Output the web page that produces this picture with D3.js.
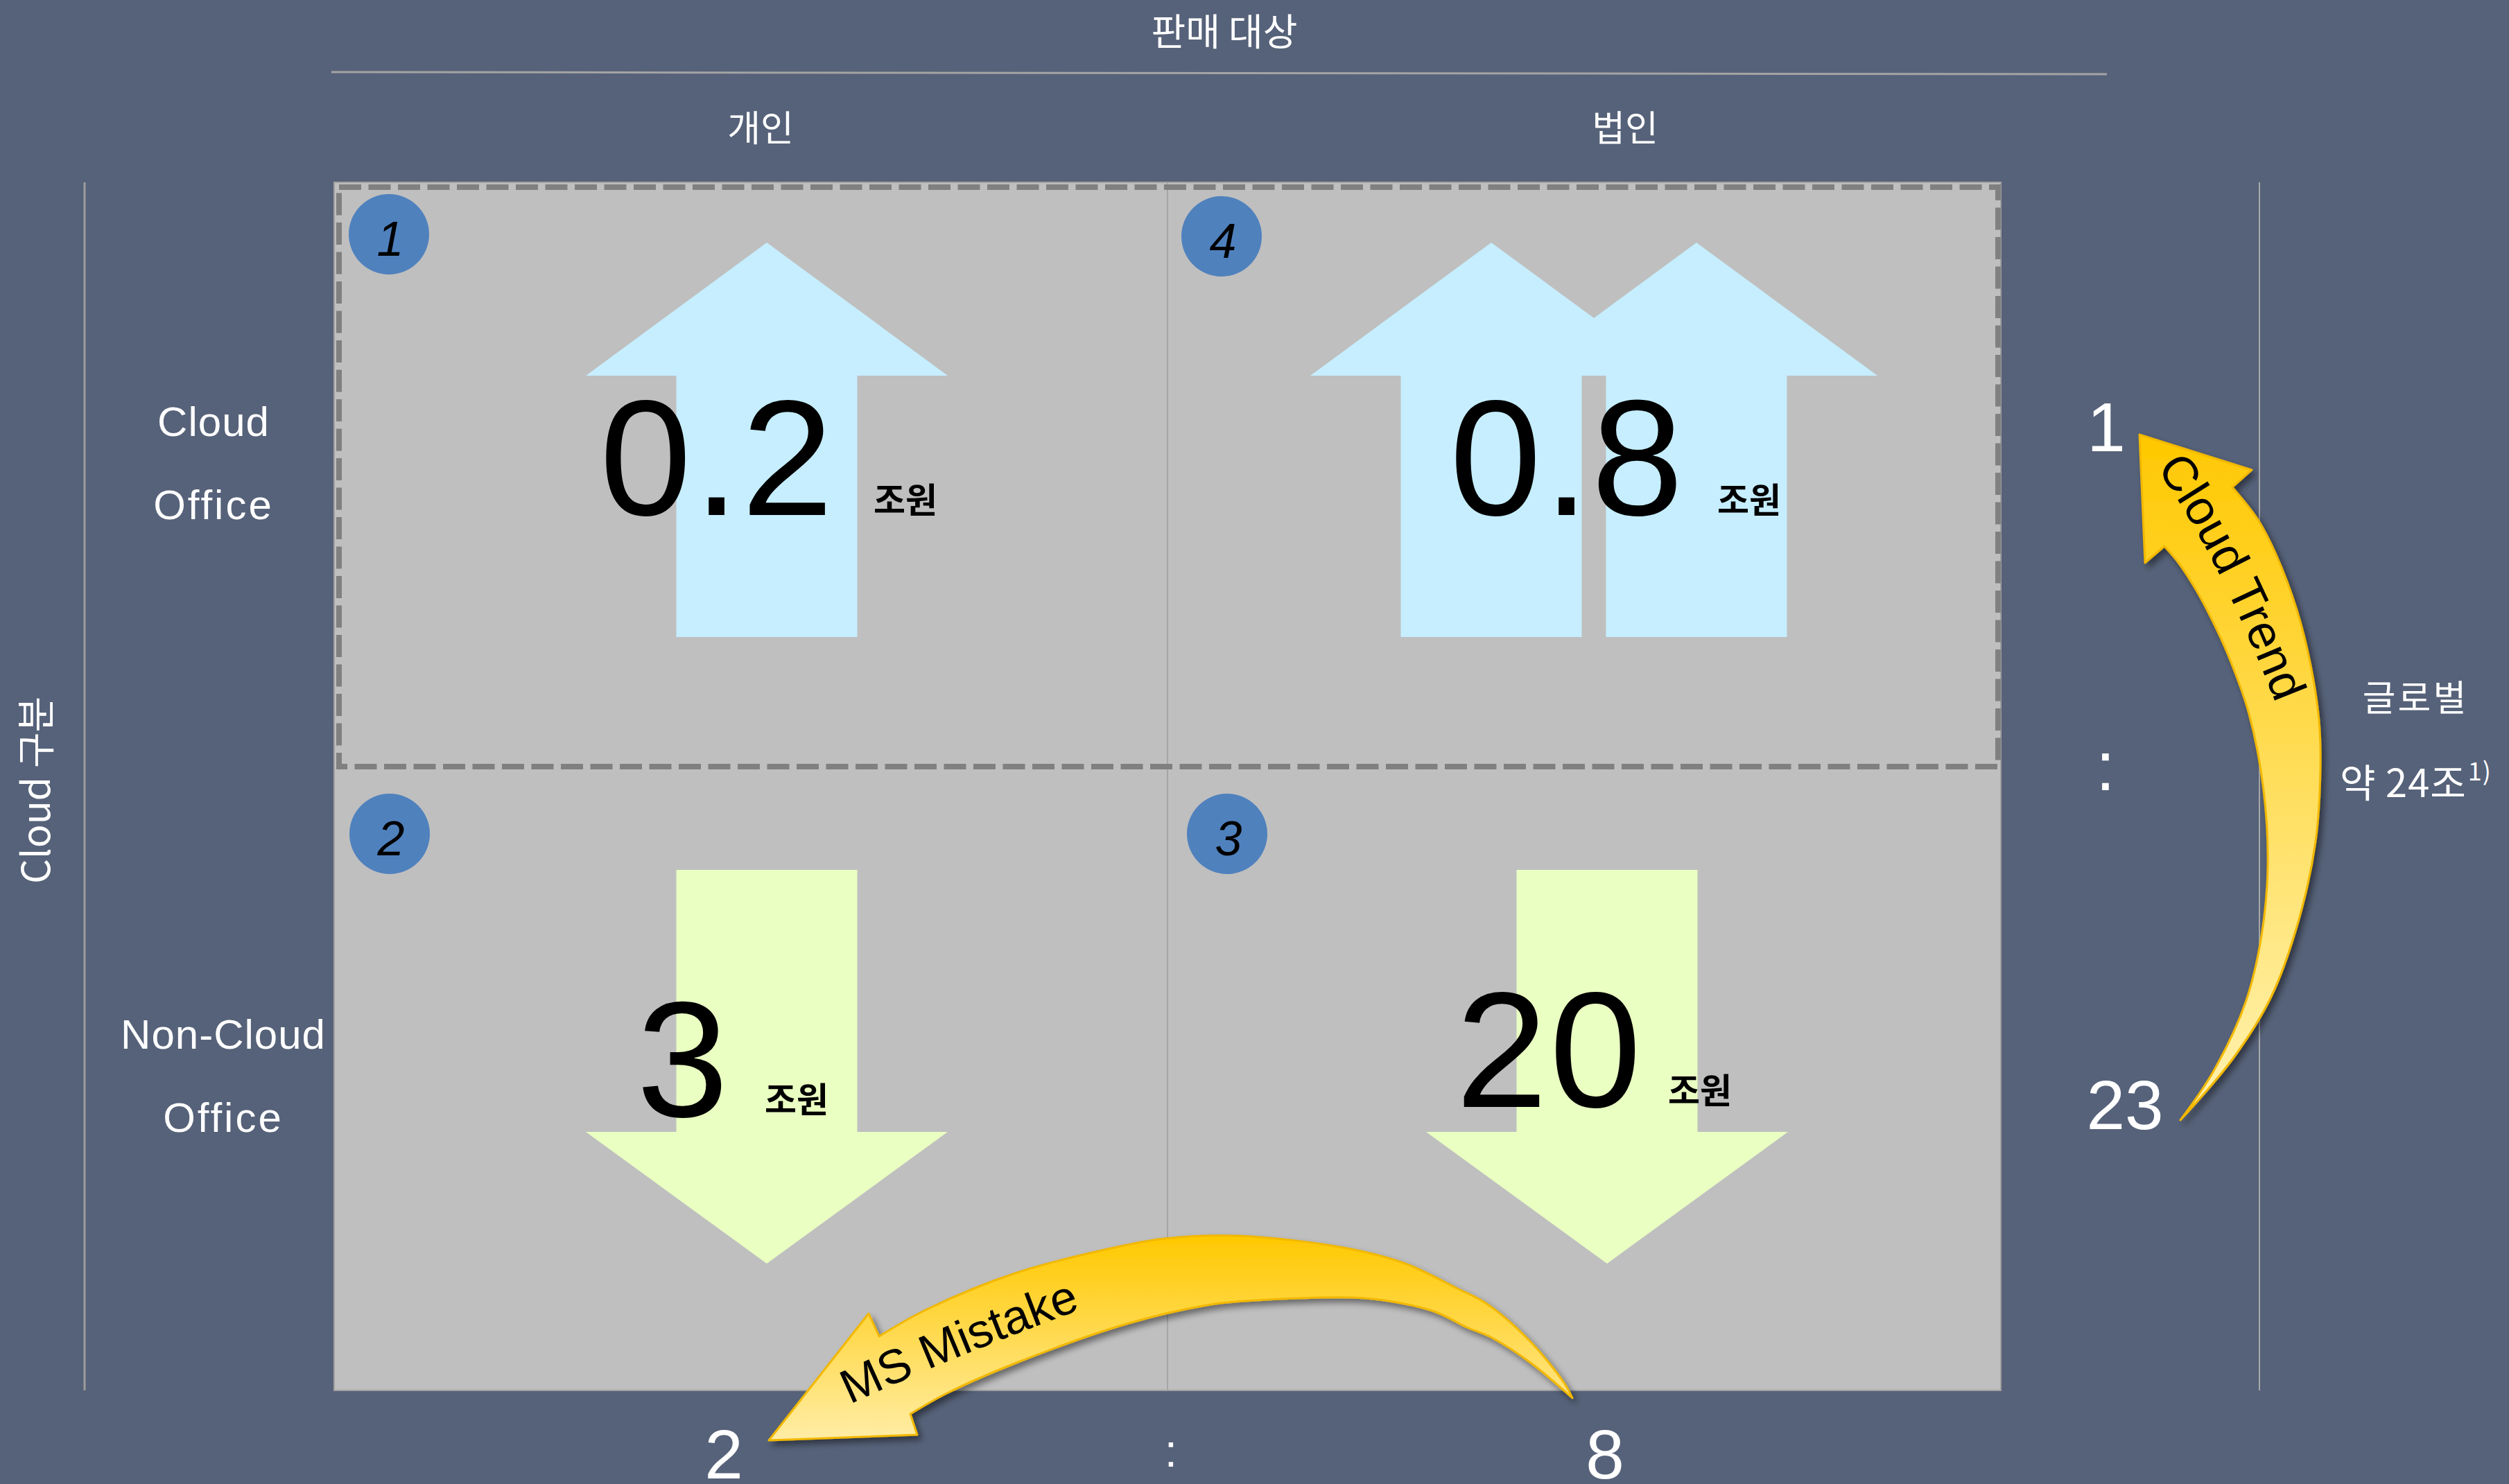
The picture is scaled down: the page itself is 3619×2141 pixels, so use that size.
<!DOCTYPE html>
<html><head><meta charset="utf-8">
<script src="https://cdn.jsdelivr.net/npm/d3@7"></script>
<style>html,body{margin:0;padding:0;background:#566279;} svg{display:block}</style>
</head><body><svg id="c" width="3619" height="2141"></svg>
<script>
// ---------------- data ----------------
const title = "판매 대상";
const columns = ["개인", "법인"];
const rows = ["Cloud Office", "Non-Cloud Office"];
const rowLabelLines = [["Cloud", "Office"], ["Non-Cloud", "Office"]];
const axisLabel = "Cloud 구분";
const quadColumn = ["개인", "법인", "개인", "법인"];
const quadRow = ["Cloud Office", "Cloud Office", "Non-Cloud Office", "Non-Cloud Office"];
const quadNumber = [1, 4, 2, 3];
const quadValue = [0.2, 0.8, 3, 20];
const quadDirection = ["up", "up", "down", "down"];
const quadArrowCount = [1, 2, 1, 1];
const unit = "조원";
const columnRatio = [2, 8];
const rowRatio = [1, 23];
const globalLabel = ["글로벌", "약 24조", "1)"];
const trendLabels = ["Cloud Trend", "MS Mistake"];

// ---------------- layout ----------------
const W = 3619, H = 2141;
const BG = "#566279";
const svg = d3.select("#c");
svg.append("rect").attr("width", W).attr("height", H).attr("fill", BG);

const x = d3.scaleBand().domain(columns).range([482, 2886]);
const rowTop = d3.scaleOrdinal().domain(rows).range([263, 1106]);
const rowBot = d3.scaleOrdinal().domain(rows).range([1106, 2006]);
const gridTop = rowTop(rows[0]), gridBottom = rowBot(rows[1]);
const gridLeft = x.range()[0], gridRight = x.range()[1];

const defs = svg.append("defs");
function grad(id, y1, y2, c1, c2) {
  const g = defs.append("linearGradient").attr("id", id).attr("gradientUnits", "userSpaceOnUse")
    .attr("x1", 0).attr("x2", 0).attr("y1", y1).attr("y2", y2);
  g.append("stop").attr("offset", 0).attr("stop-color", c1);
  g.append("stop").attr("offset", 1).attr("stop-color", c2);
}
grad("gTrend", 627, 1616, "#FFC800", "#FFF3B4");
grad("gMistake", 1783, 2078, "#FFC800", "#FFEDA6");
const f = defs.append("filter").attr("id", "shadow").attr("x", "-20%").attr("y", "-20%").attr("width", "140%").attr("height", "140%");
f.append("feDropShadow").attr("dx", 5).attr("dy", 6).attr("stdDeviation", 5).attr("flood-color", "#000").attr("flood-opacity", 0.45);

const LAT = "'Liberation Sans', Arial, Helvetica, sans-serif";
const KR = "'Noto Sans CJK KR', 'Noto Sans', sans-serif";

// title + separator
svg.append("text").attr("x", 1766).attr("y", 66).attr("text-anchor", "middle")
  .attr("font-family", KR).attr("font-size", 54).attr("fill", "#fff").text(title);
svg.append("line").attr("x1", 478).attr("y1", 104).attr("x2", 3039).attr("y2", 107)
  .attr("stroke", "#A4A4A4").attr("stroke-width", 3);

// column labels
const colLabelDx = [14, 59];
columns.forEach((c, i) => {
  svg.append("text").attr("x", x(c) + x.bandwidth() / 2 + colLabelDx[i]).attr("y", 204)
    .attr("text-anchor", "middle").attr("font-family", KR).attr("font-size", 52)
    .attr("fill", "#fff").text(c);
});

// side lines
svg.append("line").attr("x1", 122).attr("x2", 122).attr("y1", gridTop).attr("y2", gridBottom)
  .attr("stroke", "#9C9C9C").attr("stroke-width", 3);
svg.append("line").attr("x1", 3259).attr("x2", 3259).attr("y1", gridTop).attr("y2", gridBottom)
  .attr("stroke", "#A8A8A8").attr("stroke-width", 2);

// axis label
svg.append("text").attr("transform", "translate(72,1140) rotate(-90)").attr("text-anchor", "middle")
  .attr("font-family", KR).attr("font-size", 56).attr("fill", "#fff").text(axisLabel);

// row labels
const rowLabelX = [308, 322];
const rowLabelDy = [[366, 486], [407, 527]];
rows.forEach((r, i) => {
  rowLabelLines[i].forEach((t, j) => {
    svg.append("text").attr("x", rowLabelX[i]).attr("y", rowTop(r) + rowLabelDy[i][j])
      .attr("text-anchor", "middle").attr("font-family", LAT).attr("font-size", 60)
      .attr("letter-spacing", j === 1 ? 3 : 1).attr("fill", "#fff").text(t);
  });
});

// grid
svg.append("rect").attr("x", gridLeft).attr("y", gridTop).attr("width", gridRight - gridLeft)
  .attr("height", gridBottom - gridTop).attr("fill", "#BFBFBF").attr("stroke", "#A0A0A0").attr("stroke-width", 2);
svg.append("line").attr("x1", x(columns[1])).attr("x2", x(columns[1])).attr("y1", gridTop).attr("y2", gridBottom)
  .attr("stroke", "#A6A6A6").attr("stroke-width", 2);
svg.append("rect").attr("x", 489).attr("y", 270).attr("width", 2882 - 489).attr("height", rowBot(rows[0]) - 270)
  .attr("fill", "none").attr("stroke", "#808080").attr("stroke-width", 8).attr("stroke-dasharray", "32 10.5");

// quadrants
const arrowDx = [23, 14, 23, 33];
const circleD = [[79, 75], [78, 78], [80, 97], [86, 97]];
const numDx = [-71, -38, -120, -83];
const numDy = [480, 480, 505, 491];
const unitDx = [154, 178, -3, 88];
const unitDy = [477, 477, 499, 486];
const HEAD = 261, SHAFT = 130.5;
const line = d3.line();

quadValue.forEach((v, i) => {
  const qx = x(quadColumn[i]), qy = rowTop(quadRow[i]);
  const cx = qx + x.bandwidth() / 2 + arrowDx[i];
  const n = quadArrowCount[i];
  const centers = n === 1 ? [cx] : [cx - 148, cx + 148];
  centers.forEach(ax => {
    let pts;
    if (quadDirection[i] === "up") {
      const tip = qy + 87, base = qy + 279, end = qy + 656;
      pts = [[ax, tip], [ax + HEAD, base], [ax + SHAFT, base], [ax + SHAFT, end], [ax - SHAFT, end], [ax - SHAFT, base], [ax - HEAD, base]];
    } else {
      const top = qy + 149, base = qy + 527, tip = qy + 717;
      pts = [[ax - SHAFT, top], [ax + SHAFT, top], [ax + SHAFT, base], [ax + HEAD, base], [ax, tip], [ax - HEAD, base], [ax - SHAFT, base]];
    }
    svg.append("path").attr("d", line(pts) + "Z")
      .attr("fill", quadDirection[i] === "up" ? "#C6EEFF" : "#EAFFC2");
  });
  // number badge
  const bx = qx + circleD[i][0], by = qy + circleD[i][1];
  svg.append("circle").attr("cx", bx).attr("cy", by).attr("r", 58).attr("fill", "#4F81BD");
  svg.append("text").attr("x", bx + 2).attr("y", by + 31).attr("text-anchor", "middle")
    .attr("font-family", LAT).attr("font-style", "italic").attr("font-size", 70).attr("fill", "#000")
    .text(quadNumber[i]);
  // value
  svg.append("text").attr("x", cx + numDx[i]).attr("y", qy + numDy[i]).attr("text-anchor", "middle")
    .attr("font-family", LAT).attr("font-size", 238).attr("letter-spacing", 3).attr("fill", "#000").text(v);
  svg.append("text").attr("x", cx + unitDx[i]).attr("y", qy + unitDy[i])
    .attr("font-family", KR).attr("font-weight", "bold").attr("font-size", 50).attr("fill", "#000").text(unit);
});

// ratios
const ratioStyle = sel => sel.attr("font-family", LAT).attr("fill", "#fff").attr("text-anchor", "middle");
svg.append("text").attr("x", 1044).attr("y", 2133).attr("font-size", 100).call(ratioStyle).text(columnRatio[0]);
svg.append("text").attr("x", x(columns[1]) + 5).attr("y", 2116).attr("font-size", 66).call(ratioStyle).text(":");
svg.append("text").attr("x", 2315).attr("y", 2133).attr("font-size", 100).call(ratioStyle).text(columnRatio[1]);
svg.append("text").attr("x", 3038).attr("y", 651).attr("font-size", 100).call(ratioStyle).text(rowRatio[0]);
svg.append("text").attr("x", 3037).attr("y", 1140).attr("font-size", 100).call(ratioStyle).text(":");
svg.append("text").attr("x", 3065).attr("y", 1629).attr("font-size", 100).call(ratioStyle).text(rowRatio[1]);

// global label
svg.append("text").attr("x", 3484).attr("y", 1026).attr("text-anchor", "middle")
  .attr("font-family", KR).attr("font-size", 52).attr("fill", "#fff").attr("letter-spacing", 3).text(globalLabel[0]);
const gt = svg.append("text").attr("x", 3375).attr("y", 1150)
  .attr("font-family", KR).attr("font-size", 56).attr("fill", "#fff").attr("letter-spacing", 1);
gt.append("tspan").text(globalLabel[1]);
gt.append("tspan").attr("font-size", 36).attr("dy", -24).attr("dx", 2).text(globalLabel[2]);

// curved arrows
const curve = d3.line().curve(d3.curveCatmullRom.alpha(0.5));
function seg(pts) { return "L" + curve(pts).slice(1); }

// Cloud Trend
const ctOuter = [[3220, 703], [3257, 750], [3283, 800], [3313, 880], [3333, 960], [3345, 1040], [3347, 1110], [3340, 1214], [3315, 1330], [3276, 1438], [3221, 1527], [3145, 1616]];
const ctInner = [[3145, 1616], [3193, 1545], [3239, 1446], [3262, 1350], [3271, 1250], [3265, 1140], [3244, 1030], [3213, 943], [3190, 893], [3167, 850], [3143, 813], [3122, 788]];
const ctPath = "M3086,627L3248,678L3220,703" + seg(ctOuter) + seg(ctInner) + "L3094,812Z";
svg.append("path").attr("d", ctPath).attr("fill", "url(#gTrend)").attr("stroke", "#F2B800")
  .attr("stroke-width", 3).attr("stroke-linejoin", "round").attr("filter", "url(#shadow)");
defs.append("path").attr("id", "ctText").attr("d", "M3110,676 Q3200,795 3300,1060");
svg.append("text").attr("font-family", LAT).attr("font-size", 70).attr("fill", "#000")
  .append("textPath").attr("href", "#ctText").text(trendLabels[0]);

// MS Mistake
const msOuter = [[2268, 2017], [2256, 1995], [2205, 1933], [2143, 1880], [2100, 1858], [2027, 1823], [1938, 1800], [1786, 1783], [1679, 1787], [1616, 1798], [1464, 1837], [1335, 1890], [1268, 1928]];
const msInner = [[1313, 2040], [1366, 2010], [1464, 1967], [1625, 1910], [1741, 1883], [1795, 1877], [1951, 1872], [2009, 1878], [2071, 1893], [2116, 1915], [2152, 1930], [2209, 1967], [2268, 2017]];
const msPath = "M2268,2017" + seg(msOuter) + "L1253,1895L1109,2078L1323,2070L1313,2040" + seg(msInner) + "Z";
svg.append("path").attr("d", msPath).attr("fill", "url(#gMistake)").attr("stroke", "#F2B800")
  .attr("stroke-width", 3).attr("stroke-linejoin", "round").attr("filter", "url(#shadow)");
defs.append("path").attr("id", "msText").attr("d", "M1226,2026 Q1390,1950 1590,1878");
svg.append("text").attr("font-family", LAT).attr("font-size", 69).attr("fill", "#000")
  .append("textPath").attr("href", "#msText").text(trendLabels[1]);
</script>
</body></html>
